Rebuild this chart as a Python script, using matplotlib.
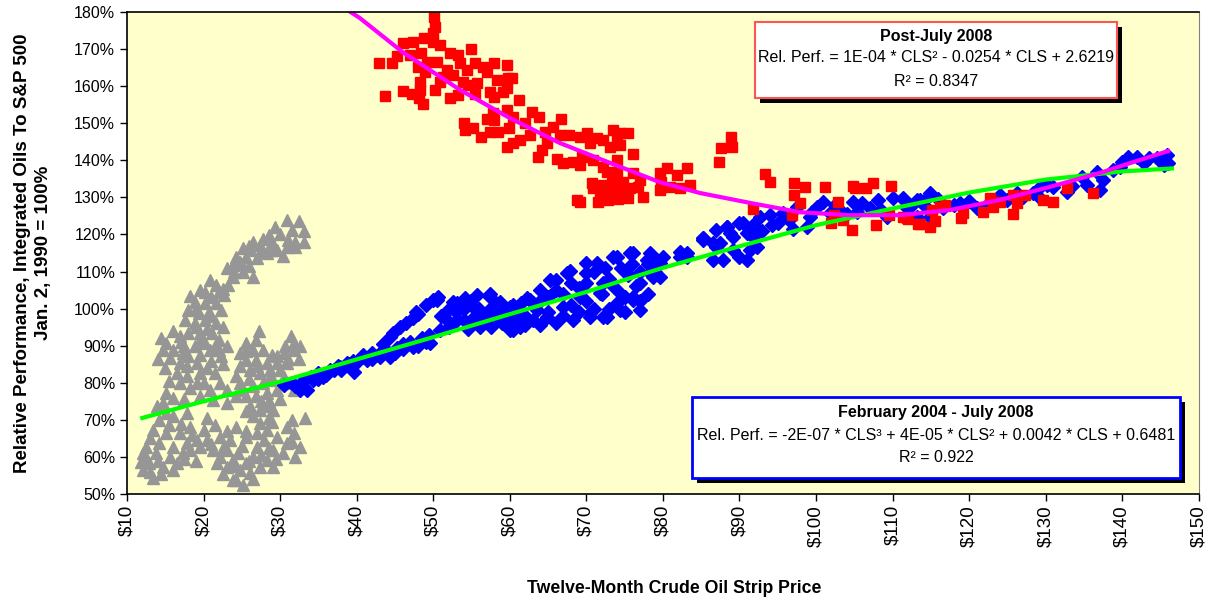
import numpy as np
import matplotlib
matplotlib.use("Agg")
import matplotlib.pyplot as plt
from matplotlib.patches import Rectangle
from matplotlib.ticker import FuncFormatter

plt.rcParams['font.family'] = ['Liberation Sans', 'DejaVu Sans']

# ---- data: (strip price $, relative performance %) ----
gray_pts = [
    (30.9, 123.9), (29.3, 122.1), (31.6, 121.2), (33.1, 121.0), (32.0, 118.0), (33.1, 118.0),
    (30.9, 116.7), (29.6, 115.8), (28.3, 114.9), (27.4, 117.2), (26.5, 118.0), (27.8, 118.9),
    (28.5, 119.8), (26.1, 115.8), (25.2, 116.3), (25.6, 114.0), (24.3, 114.0), (24.8, 112.7),
    (23.9, 111.8), (23.0, 110.9), (27.0, 113.6), (26.5, 108.6), (25.2, 109.9), (28.9, 115.8),
    (30.4, 114.2), (32.0, 116.7),
    (24.0, 110.0), (25.0, 112.0), (26.0, 111.5), (27.5, 115.5), (29.0, 118.0), (30.0, 120.0),
    (31.0, 118.5), (32.5, 123.5), (26.0, 117.0),
    (20.9, 107.7), (21.6, 106.3), (20.2, 104.5), (22.0, 104.5), (22.5, 105.4), (18.9, 101.8),
    (20.2, 101.4), (21.6, 101.4), (18.0, 99.7), (19.4, 98.8), (20.7, 99.2), (22.3, 99.7),
    (18.2, 103.3), (17.6, 97.0), (18.9, 96.1), (20.2, 97.0), (21.6, 96.1), (18.0, 93.4),
    (19.6, 93.4), (21.1, 93.4), (22.0, 91.6), (20.2, 90.7), (18.9, 89.8), (20.9, 88.9),
    (22.0, 88.9), (22.3, 87.1), (18.0, 87.1), (23.2, 106.3), (23.9, 108.4), (22.7, 103.6),
    (19.5, 105.0), (21.0, 103.0), (19.0, 100.0), (21.0, 98.0), (19.0, 95.0), (22.5, 95.0),
    (20.5, 94.5), (17.0, 91.0), (19.5, 91.5), (21.5, 90.0), (23.0, 90.0), (19.5, 87.5),
    (21.0, 86.0), (22.5, 85.0), (20.5, 84.0), (21.5, 82.5),
    (16.0, 93.9), (16.9, 92.5), (15.1, 90.7), (14.7, 88.9), (16.0, 88.9), (17.3, 88.0),
    (15.6, 86.7), (16.9, 85.3), (17.8, 84.4), (16.5, 82.6), (17.8, 81.7), (16.9, 79.9),
    (18.2, 78.5), (19.1, 79.9), (19.6, 82.6), (19.1, 85.3),
    (15.0, 84.0), (14.5, 92.0), (17.5, 90.0), (15.5, 80.5), (14.0, 86.5), (17.5, 75.5),
    (16.0, 76.0),
    (20.0, 79.9), (20.9, 78.1), (22.1, 79.9), (23.0, 78.1), (19.6, 76.3), (21.3, 75.4),
    (23.0, 74.5), (24.3, 76.3), (24.8, 79.9), (24.3, 81.7),
    (27.2, 93.9), (26.9, 91.6), (25.6, 90.7), (26.5, 88.9), (27.8, 88.9), (24.8, 88.0),
    (25.6, 86.2), (26.9, 86.2), (28.3, 85.3), (24.8, 84.4), (26.1, 83.5), (27.4, 82.6),
    (28.7, 83.5), (29.6, 85.3), (30.5, 88.0), (31.4, 92.5), (31.8, 90.7), (30.7, 89.8),
    (29.6, 87.1), (30.0, 83.5), (29.1, 80.8), (27.8, 79.9), (26.5, 79.0), (25.6, 76.3),
    (26.9, 76.3), (28.3, 77.2), (29.6, 78.1), (30.9, 79.9), (31.8, 78.1), (26.1, 73.6),
    (27.4, 72.7), (28.3, 73.6), (29.1, 72.7), (26.5, 70.9), (27.4, 69.1), (33.2, 70.5),
    (30.9, 85.3), (31.8, 88.9), (32.6, 89.8),
    (25.5, 88.5), (26.0, 81.0), (27.0, 84.5), (28.5, 81.0), (29.0, 87.5), (30.5, 81.5),
    (31.0, 86.5), (32.5, 86.5), (27.5, 75.0), (28.5, 75.0), (30.0, 75.5), (25.0, 78.0),
    (25.5, 72.5), (28.5, 70.5), (32.5, 80.0),
    (14.7, 74.5), (15.1, 71.8), (14.2, 70.0), (16.0, 70.9), (17.8, 71.8), (13.4, 67.3),
    (15.1, 66.4), (16.9, 66.4), (18.2, 68.2), (12.5, 62.8), (14.2, 63.7), (16.0, 62.8),
    (17.8, 63.7), (19.1, 64.6), (12.1, 61.0), (13.8, 61.0), (15.6, 60.1), (17.3, 61.0),
    (12.9, 58.3), (14.7, 57.4), (16.5, 58.3), (12.1, 56.5), (13.4, 54.3), (18.2, 61.9),
    (19.6, 62.8), (15.1, 77.2), (13.9, 73.6),
    (13.0, 65.0), (15.5, 68.5), (17.0, 69.0), (18.5, 66.0), (14.0, 59.0), (16.0, 56.5),
    (13.0, 56.0), (12.5, 60.0), (17.5, 59.5), (19.0, 59.0), (11.8, 58.5), (14.5, 55.5),
    (20.0, 67.3), (20.4, 64.6), (21.3, 61.9), (22.1, 60.1), (23.0, 61.9), (21.8, 58.3),
    (23.0, 57.4), (23.9, 59.2), (24.8, 56.5), (24.3, 53.8), (25.2, 52.4), (26.1, 55.6),
    (25.6, 58.3), (26.5, 60.1), (27.4, 57.4), (28.3, 59.2), (27.0, 62.8), (25.6, 65.5),
    (24.3, 68.2), (27.9, 64.6), (29.1, 61.9), (29.6, 65.5), (30.9, 63.7), (31.8, 66.4),
    (32.6, 62.8), (30.4, 61.0), (23.5, 64.6), (22.1, 65.5), (28.3, 67.3), (30.9, 68.2),
    (29.1, 57.4), (23.9, 53.8),
    (21.0, 63.5), (22.5, 62.5), (24.5, 61.0), (25.0, 63.0), (26.0, 59.0), (27.5, 60.5),
    (28.5, 62.5), (29.5, 59.5), (31.5, 64.0), (32.0, 60.0), (24.0, 57.5), (22.5, 55.5),
    (26.5, 54.0), (25.5, 67.0), (27.0, 66.5), (29.0, 69.5), (31.5, 70.0), (20.5, 70.5),
    (21.5, 68.5), (23.0, 67.0),
]

blue_pts = [
    (32.6, 78.0), (34.3, 80.7), (36.5, 83.4), (38.7, 85.3), (40.8, 87.5), (43.0, 88.0),
    (45.3, 89.4), (47.3, 89.7), (49.6, 90.7), (39.6, 82.9), (44.3, 92.3), (45.7, 95.0),
    (47.4, 97.5), (47.8, 99.0), (50.0, 102.3), (50.6, 103.1), (52.6, 101.8), (54.2, 102.9),
    (55.7, 103.7), (57.4, 103.9), (58.7, 101.8), (60.4, 101.0), (62.2, 102.9),
    (51.8, 96.9), (54.0, 96.9), (56.1, 98.3), (58.3, 97.7), (60.4, 94.2), (61.3, 96.9),
    (50.9, 94.2), (33.5, 78.0), (35.6, 81.6), (37.8, 84.2), (41.3, 86.1), (44.3, 86.9),
    (30.5, 79.5), (31.5, 80.0), (32.0, 79.0), (33.0, 80.5), (34.0, 81.5), (35.0, 81.0),
    (35.0, 82.5), (36.0, 82.0), (37.0, 83.5), (37.5, 84.5), (38.0, 83.5), (39.0, 85.0),
    (39.5, 86.0), (40.0, 85.5), (41.0, 87.0), (42.0, 86.5), (42.0, 88.0), (43.0, 87.0),
    (44.0, 88.5), (45.0, 88.0), (46.0, 89.0), (46.0, 90.5), (47.0, 91.0), (48.0, 90.0),
    (48.5, 92.0), (49.0, 91.0), (49.5, 93.0), (43.5, 90.5), (44.8, 93.5), (46.5, 96.0),
    (49.0, 101.0), (48.0, 98.5),
    (50.5, 102.3), (53.1, 101.5), (53.1, 96.9), (55.2, 100.4), (56.1, 95.0), (57.4, 103.1),
    (58.3, 97.7), (60.0, 100.4), (61.7, 96.1), (62.6, 102.3), (63.9, 105.0), (64.8, 97.7),
    (66.1, 107.7), (66.9, 100.4), (67.9, 110.2), (68.2, 96.9), (69.2, 103.1), (70.0, 109.6),
    (70.5, 98.8), (71.4, 112.3), (72.2, 106.9), (73.5, 113.9), (72.2, 97.7), (74.0, 101.5),
    (75.7, 115.0), (76.1, 103.1), (77.0, 99.6), (77.9, 113.1), (78.3, 109.6), (79.6, 108.5),
    (79.2, 113.1), (83.1, 115.0), (82.2, 113.9), (85.2, 119.0), (87.0, 116.6), (88.8, 120.4),
    (87.8, 113.1), (90.0, 113.9), (91.4, 115.8), (91.8, 119.3),
    (60.0, 94.2), (61.3, 95.0), (63.0, 101.5), (65.2, 107.7), (67.5, 109.6), (70.0, 112.3),
    (70.5, 97.7), (71.8, 104.2), (73.1, 106.9), (74.0, 113.9), (72.7, 97.7), (74.4, 99.6),
    (76.1, 115.0), (76.1, 102.3), (77.0, 106.9), (78.3, 115.0), (78.7, 108.5), (79.6, 112.3),
    (82.2, 115.3), (83.1, 114.0), (85.2, 118.5), (86.5, 117.7), (86.5, 113.1), (88.4, 122.0),
    (89.1, 115.8), (90.0, 123.1), (91.0, 113.1),
    (51.0, 98.0), (52.0, 100.0), (52.0, 95.0), (53.0, 99.0), (54.0, 100.0), (54.5, 94.5),
    (55.0, 97.0), (55.0, 102.0), (56.0, 100.0), (56.5, 96.5), (57.0, 99.0), (57.5, 95.0),
    (58.0, 101.0), (59.0, 96.0), (59.0, 99.0), (60.0, 98.0), (60.0, 96.0), (61.0, 99.0),
    (61.5, 101.5), (62.0, 95.5), (62.0, 98.0), (63.0, 97.0), (63.5, 99.5), (64.0, 95.5),
    (64.0, 102.0), (65.0, 99.0), (65.0, 103.0), (66.0, 96.0), (66.0, 105.0), (67.0, 98.0),
    (67.0, 104.0), (68.0, 101.0), (68.0, 107.0), (69.0, 99.0), (69.0, 105.5), (70.0, 102.0),
    (70.0, 107.0), (71.0, 100.0), (71.0, 110.0), (72.0, 104.0), (72.5, 111.0), (73.0, 100.0),
    (73.0, 108.0), (74.0, 105.0), (74.5, 111.0), (75.0, 99.0), (75.0, 103.0), (75.5, 109.0),
    (76.0, 112.0), (76.5, 106.0), (77.0, 102.0), (77.0, 110.0), (78.0, 104.0), (78.0, 112.0),
    (79.0, 110.0), (80.0, 114.0),
    (85.2, 119.0), (87.0, 121.2), (88.4, 122.0), (90.4, 123.1), (91.8, 122.5), (92.7, 124.7),
    (94.0, 125.2), (94.2, 122.5), (89.1, 119.3), (91.0, 120.4), (92.3, 116.6), (87.5, 117.7),
    (95.7, 125.8), (97.5, 127.4), (98.8, 122.0), (99.2, 124.7), (100.1, 127.4), (100.9, 128.8),
    (101.8, 125.8), (103.1, 126.6), (104.8, 128.8), (105.3, 126.0), (107.0, 127.1), (108.1, 129.3),
    (110.0, 129.8), (111.3, 129.6), (109.3, 124.7), (111.9, 127.1), (113.6, 129.3), (114.9, 130.6),
    (113.2, 124.7), (114.9, 124.7),
    (111.3, 129.8), (113.2, 129.3), (114.9, 131.2), (114.4, 127.4), (116.6, 127.1), (121.0, 127.1),
    (122.3, 127.9), (124.9, 129.3), (128.3, 131.2), (129.2, 132.8), (130.9, 132.8), (132.8, 131.4),
    (134.8, 135.5), (135.4, 133.3), (136.7, 136.8), (137.1, 132.0), (137.5, 134.7), (138.8, 137.4),
    (139.7, 138.2), (140.7, 140.9), (141.9, 140.9), (142.9, 139.3), (144.5, 140.6), (145.8, 141.4),
    (146.0, 139.3), (145.5, 138.7), (118.8, 128.5), (124.0, 130.6), (126.2, 131.2), (130.2, 133.3),
    (93.0, 121.0), (95.0, 123.0), (96.5, 124.0), (97.0, 121.5), (99.5, 126.0), (102.5, 128.0),
    (104.0, 125.5), (106.0, 128.5), (108.5, 126.5), (112.5, 128.0), (116.0, 129.5), (118.0, 128.0),
    (120.0, 129.0), (123.0, 128.5), (127.0, 130.0), (129.0, 130.5), (133.5, 133.0), (140.0, 139.5),
    (143.5, 140.5),
]

red_pts = [
    (50.1, 178.6), (50.2, 176.0), (50.0, 174.3), (50.0, 172.0), (50.9, 171.0), (46.0, 171.6),
    (47.3, 172.0), (48.8, 173.0), (48.4, 169.0), (45.3, 168.0), (47.0, 168.4), (42.9, 166.2),
    (44.6, 166.2), (43.7, 157.3), (46.0, 158.7), (47.2, 158.0), (48.3, 161.0), (48.3, 159.0),
    (48.7, 155.2), (48.1, 156.8), (50.2, 159.0), (50.9, 161.0), (52.2, 156.8), (53.2, 157.6),
    (52.2, 169.0), (53.2, 168.4), (55.0, 170.0), (53.5, 166.2), (51.8, 164.3), (50.5, 166.5),
    (49.2, 166.5), (48.0, 165.2), (48.9, 163.8), (51.3, 162.5), (52.6, 163.0), (53.9, 161.0),
    (54.4, 164.3), (55.4, 166.2), (56.5, 165.2), (57.0, 163.8), (55.7, 160.8), (55.4, 158.0),
    (54.5, 160.3), (57.9, 166.2), (59.6, 165.7), (59.8, 162.2), (58.3, 161.6), (57.4, 158.4),
    (58.0, 157.0), (59.1, 158.4), (60.3, 162.2), (59.6, 159.5), (61.2, 156.3), (59.6, 153.6),
    (57.8, 152.8), (57.0, 151.1), (58.0, 150.9), (62.9, 153.0), (63.8, 151.7), (60.4, 151.7),
    (54.0, 150.0), (54.1, 148.2), (55.2, 148.7), (56.3, 146.3), (57.4, 147.6), (58.4, 147.6),
    (59.9, 148.7), (62.0, 150.0), (62.6, 146.8), (61.3, 145.5), (60.4, 144.7), (59.6, 143.6),
    (64.6, 147.6), (65.6, 149.0), (66.7, 151.1), (66.5, 146.8), (67.7, 146.8), (64.9, 144.7),
    (64.2, 142.8), (63.7, 140.9), (66.2, 140.3), (66.9, 139.3), (68.3, 139.5), (69.2, 138.7),
    (69.4, 140.9), (69.2, 146.3), (70.1, 147.4), (70.5, 144.7), (71.4, 146.0), (72.2, 145.5),
    (73.1, 143.6), (73.5, 148.2), (74.4, 147.4), (75.4, 147.4), (74.0, 146.3), (74.4, 144.1),
    (76.1, 141.7), (70.9, 140.0), (72.2, 138.2), (74.0, 140.0), (72.7, 136.8), (74.0, 136.8),
    (76.1, 136.6), (77.0, 134.7), (70.7, 133.9), (70.9, 132.5), (72.2, 133.3), (73.3, 133.9),
    (74.8, 134.1), (71.8, 131.2), (73.1, 131.5), (74.4, 132.0), (75.7, 132.5), (76.7, 132.8),
    (71.5, 128.8), (72.8, 129.3), (74.1, 129.6), (75.4, 129.8), (77.4, 130.1), (68.8, 129.3),
    (69.2, 128.8), (79.6, 136.6), (80.5, 137.9), (81.8, 136.0), (83.1, 137.9), (79.6, 132.0),
    (80.9, 132.8), (82.2, 132.5), (83.5, 133.3), (79.8, 134.1),
    (88.9, 146.3), (87.6, 143.3), (89.0, 143.6), (87.3, 139.5), (93.3, 136.3), (94.0, 134.1),
    (97.1, 133.9), (97.1, 130.6), (97.9, 128.5), (98.5, 132.8), (101.2, 132.8), (102.9, 128.8),
    (104.8, 133.1), (105.1, 132.5), (107.4, 133.9), (106.5, 132.5), (109.8, 133.1), (91.8, 126.9),
    (96.8, 125.2), (102.4, 125.2), (102.0, 123.1), (103.5, 123.9), (104.7, 121.2), (107.9, 122.5),
    (109.6, 125.2), (111.3, 124.7), (112.0, 124.2), (113.3, 122.8), (114.9, 122.0), (115.5, 123.6),
    (116.2, 127.4), (116.8, 127.9), (115.1, 126.6),
    (111.9, 124.4), (113.6, 122.8), (119.0, 124.4), (119.2, 125.8), (121.8, 126.0), (122.7, 129.8),
    (123.1, 127.4), (124.0, 128.8), (125.7, 130.6), (126.2, 128.5), (125.7, 125.5), (127.3, 130.6),
    (129.6, 129.3), (130.9, 128.8), (132.8, 132.5), (136.2, 131.2),
]

# trend lines
fit_pre_x = [12, 20, 30, 40, 50, 60, 70, 80, 90, 100, 110, 120, 130, 140, 146.5]
fit_pre_y = [70.5, 75.0, 80.3, 86.3, 92.3, 98.5, 104.5, 111.0, 116.8, 122.5, 127.0, 131.3, 134.8, 137.0, 137.8]
fit_post_x = [39.2, 40.4, 46.0, 53.5, 60.0, 66.5, 73.1, 79.6, 84.8, 91.4, 97.9, 104.4, 111.0,
              117.5, 124.0, 130.5, 137.1, 141.4, 146.0]
fit_post_y = [180.0, 178.4, 169.2, 159.0, 151.4, 144.7, 139.3, 134.1, 131.2, 128.5, 126.0, 125.2,
              125.2, 126.6, 129.3, 132.8, 136.6, 139.5, 142.5]

x_ticks = list(range(10, 151, 10))
y_ticks = list(range(50, 181, 10))

gray = np.array(gray_pts)
blue = np.array(blue_pts)
red = np.array(red_pts)

fig = plt.figure(figsize=(12.07, 6.0), dpi=100)
ax = fig.add_axes([0.1052, 0.1767, 0.888, 0.8033])
ax.set_facecolor('#FFFFCC')

ax.plot(gray[:, 0], gray[:, 1], ls='none', marker='^', ms=8.5, color='#969696', mec='#969696')
ax.plot(blue[:, 0], blue[:, 1], ls='none', marker='D', ms=7, color='#0000FF', mec='#0000FF')
ax.plot(red[:, 0], red[:, 1], ls='none', marker='s', ms=6.5, color='#FF0000', mec='#FF0000')
ax.plot(fit_pre_x, fit_pre_y, color='#00FF00', lw=3)
ax.plot(fit_post_x, fit_post_y, color='#FF00FF', lw=3)

ax.set_xlim(10, 150)
ax.set_ylim(50, 180)
ax.set_xticks(x_ticks)
ax.set_yticks(y_ticks)
ax.xaxis.set_major_formatter(FuncFormatter(lambda v, p: '$%d' % v))
ax.yaxis.set_major_formatter(FuncFormatter(lambda v, p: '%d%%' % v))
ax.tick_params(axis='x', labelsize=13.5, rotation=90, direction='out', length=5, width=1, pad=3)
ax.tick_params(axis='y', labelsize=11.5, direction='out', length=5, width=1)
for side in ['left', 'bottom', 'top']:
    ax.spines[side].set_color('black')
    ax.spines[side].set_linewidth(1.2)
ax.spines['right'].set_color('#808080')

fig.text(0.019, 0.578, 'Relative Performance, Integrated Oils To S&P 500',
         rotation=90, ha='center', va='center', fontsize=13.5, fontweight='bold')
fig.text(0.036, 0.578, 'Jan. 2, 1990 = 100%',
         rotation=90, ha='center', va='center', fontsize=13.5, fontweight='bold')
fig.text(0.5588, 0.019, 'Twelve-Month Crude Oil Strip Price', ha='center', va='center',
         fontsize=12.7, fontweight='bold')

W, H = 1207.0, 600.0


def box(x0, y0, x1, y1, edge, lw, lines):
    # shadow then white box, all in pixel units turned into figure fraction
    fig.add_artist(Rectangle(((x0 + 5) / W, 1 - (y1 + 5) / H), (x1 - x0) / W, (y1 - y0) / H,
                             facecolor='black', edgecolor='none', zorder=5))
    fig.add_artist(Rectangle((x0 / W, 1 - y1 / H), (x1 - x0) / W, (y1 - y0) / H,
                             facecolor='white', edgecolor=edge, lw=lw, zorder=6))
    for txt, yy, bold in lines:
        fig.text((x0 + x1) / 2 / W, 1 - yy / H, txt, ha='center', va='center', fontsize=11.5,
                 fontweight='bold' if bold else 'normal', zorder=7)


box(755, 22, 1117, 98, '#FF5555', 1.5, [
    ('Post-July 2008', 37, True),
    ('Rel. Perf. = 1E-04 * CLS\u00b2 - 0.0254 * CLS + 2.6219', 58, False),
    ('R\u00b2 = 0.8347', 81, False),
])
box(692, 397, 1180, 478, '#0000FF', 2, [
    ('February 2004 - July 2008', 412, True),
    ('Rel. Perf. = -2E-07 * CLS\u00b3 + 4E-05 * CLS\u00b2 + 0.0042 * CLS + 0.6481', 435, False),
    ('R\u00b2 = 0.922', 458, False),
])

fig.savefig('out.png', dpi=100)
